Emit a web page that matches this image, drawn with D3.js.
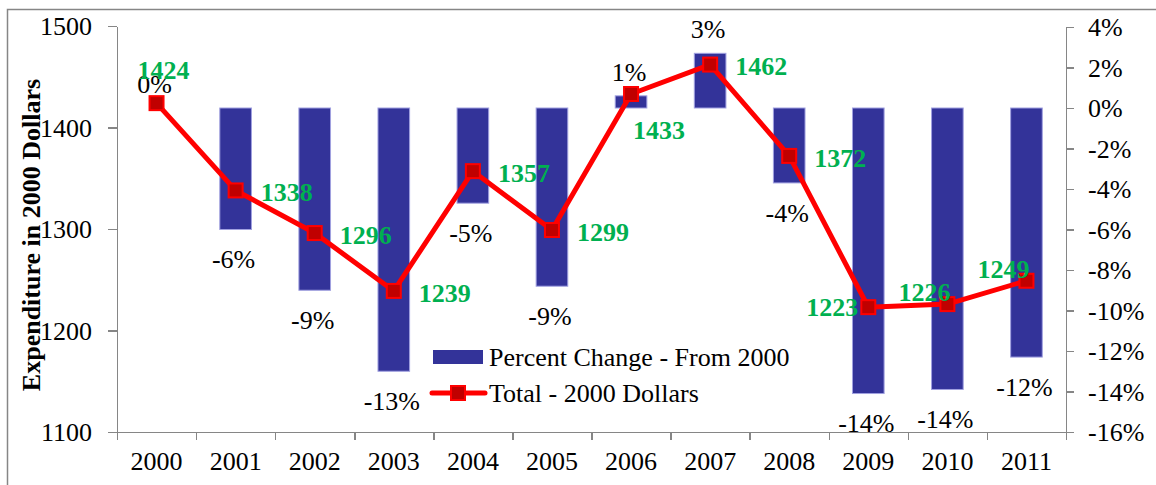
<!DOCTYPE html>
<head>
<meta charset="utf-8">
<title>Expenditure in 2000 Dollars</title>
<script src="https://d3js.org/d3.v7.min.js"></script>
<style>
    body { margin: 0; background: #fff; }
    .axis path, .axis line { stroke: #868686; stroke-width: 1.5; shape-rendering: crispEdges; }
    .axis text { fill: #000; }
    .bar { fill: #333399; stroke: #a0a0e0; stroke-width: 1; }
    .line { fill: none; stroke: #ff0000; stroke-width: 5; stroke-linejoin: round; }
    .dot { fill: #c00000; stroke: #ff0000; stroke-width: 2; }
    .pct { fill: #000; text-anchor: middle; }
    .val { font-weight: bold; fill: #00b050; text-anchor: middle; }
</style>
</head>
<body>
<div id="container"></div>
<script>
// ---- data ----
var years = ["2000","2001","2002","2003","2004","2005","2006","2007","2008","2009","2010","2011"];
var totals = [1424, 1338, 1296, 1239, 1357, 1299, 1433, 1462, 1372, 1223, 1226, 1249];
var pctChange = [0, -6.0, -9.0, -13.0, -4.7, -8.8, 0.6, 2.7, -3.7, -14.1, -13.9, -12.3];
var pctLabels = ["0%","-6%","-9%","-13%","-5%","-9%","1%","3%","-4%","-14%","-14%","-12%"];
var leftTicks = [1100, 1200, 1300, 1400, 1500];
var rightTicks = [-16, -14, -12, -10, -8, -6, -4, -2, 0, 2, 4];

// where the green value labels sit relative to the marker
var valPlace = ["above","right","right","right","right","right","below","right","right","left","upleft","upleft"];
var placeOffset = {
    above:  [7, -33],
    right:  [51, 2],
    below:  [28, 36],
    left:   [-36, 0],
    upleft: [-23, -12]
};

var FONT = "'Liberation Serif', Tinos, 'Times New Roman', Times, serif";
var W = 1156, H = 485;
var plot = {left: 117, right: 1066, top: 27, bottom: 432};

var svg = d3.select("#container").append("svg")
    .attr("width", W)
    .attr("height", H);

// outer frame
svg.append("rect")
    .attr("x", 7.5).attr("y", 9.5)
    .attr("width", W).attr("height", H)
    .attr("fill", "none")
    .attr("stroke", "#868686")
    .attr("stroke-width", 1.5);

// ---- scales ----
var x = d3.scaleBand()
    .domain(years)
    .range([plot.left, plot.right])
    .paddingInner(0.6)
    .paddingOuter(0.3);

var xEdge = d3.scaleLinear().domain([0, years.length]).range([plot.left, plot.right]);

var yLeft = d3.scaleLinear().domain([1100, 1500]).range([plot.bottom, plot.top - 1]);
var yRight = d3.scaleLinear().domain([-16, 4]).range([plot.bottom, plot.top]);

function cx(d, i) { return x(years[i]) + x.bandwidth() / 2; }

// ---- bars ----
svg.selectAll(".bar")
    .data(pctChange)
  .enter().append("rect")
    .attr("class", "bar")
    .attr("x", function(d, i) { return x(years[i]); })
    .attr("width", x.bandwidth())
    .attr("y", function(d) { return yRight(Math.max(0, d)); })
    .attr("height", function(d) { return Math.abs(yRight(d) - yRight(0)); });

// ---- axes ----
svg.append("g")
    .attr("class", "axis")
    .attr("transform", "translate(" + plot.left + ",0)")
    .call(d3.axisLeft(yLeft).tickValues(leftTicks).tickSize(9).tickSizeOuter(0).tickPadding(16)
        .tickFormat(d3.format("d")))
    .selectAll("text").attr("dy", "0.34em");

svg.append("g")
    .attr("class", "axis")
    .attr("transform", "translate(" + plot.right + ",0)")
    .call(d3.axisRight(yRight).tickValues(rightTicks).tickSize(8).tickSizeOuter(0).tickPadding(14)
        .tickFormat(function(d) { return d + "%"; }))
    .selectAll("text").attr("dy", "0.34em");

// x axis: tick lines at band edges, labels at band centres
svg.append("g")
    .attr("class", "axis")
    .attr("transform", "translate(0," + plot.bottom + ")")
    .call(d3.axisBottom(xEdge).tickValues(d3.range(years.length + 1)).tickSize(8).tickSizeOuter(0).tickFormat(""));

svg.append("g")
    .attr("class", "axis")
    .attr("transform", "translate(0," + plot.bottom + ")")
    .call(d3.axisBottom(x).tickSize(0).tickPadding(20))
    .call(function(g) { g.select(".domain").remove(); });

// ---- line ----
var valueline = d3.line()
    .x(function(d, i) { return cx(d, i); })
    .y(function(d) { return yLeft(d); });

svg.append("path")
    .datum(totals)
    .attr("class", "line")
    .attr("d", valueline);

svg.selectAll(".dot")
    .data(totals)
  .enter().append("rect")
    .attr("class", "dot")
    .attr("x", function(d, i) { return cx(d, i) - 7; })
    .attr("y", function(d) { return yLeft(d) - 7; })
    .attr("width", 14)
    .attr("height", 14);

// ---- percent labels ----
svg.selectAll(".pct")
    .data(pctChange)
  .enter().append("text")
    .attr("class", "pct")
    .attr("x", function(d, i) { return cx(d, i) - 2; })
    .attr("y", function(d) { return d < 0 ? yRight(d) + 30 : yRight(d) - 24; })
    .attr("dy", "0.34em")
    .text(function(d, i) { return pctLabels[i]; });

// ---- value labels ----
svg.selectAll(".val")
    .data(totals)
  .enter().append("text")
    .attr("class", "val")
    .attr("x", function(d, i) { return cx(d, i) + placeOffset[valPlace[i]][0]; })
    .attr("y", function(d, i) { return yLeft(d) + placeOffset[valPlace[i]][1]; })
    .attr("dy", "0.34em")
    .text(function(d) { return d; });

// ---- y title ----
svg.append("text")
    .attr("transform", "translate(31,235) rotate(-90)")
    .attr("dy", "0.34em")
    .style("text-anchor", "middle")
    .style("font-weight", "bold")
    .text("Expenditure in 2000 Dollars");

// ---- legend ----
var lg = svg.append("g").attr("transform", "translate(433,357)");
lg.append("rect").attr("x", 0).attr("y", -7).attr("width", 50).attr("height", 14).attr("fill", "#333399");
lg.append("text").attr("x", 56).attr("y", 0).attr("dy", "0.34em").text("Percent Change - From 2000");
lg.append("line").attr("x1", -1).attr("x2", 52).attr("y1", 36).attr("y2", 36)
    .attr("stroke", "#ff0000").attr("stroke-width", 5).attr("stroke-linecap", "round");
lg.append("rect").attr("class", "dot").attr("x", 18).attr("y", 29).attr("width", 14).attr("height", 14);
lg.append("text").attr("x", 56).attr("y", 36).attr("dy", "0.34em").text("Total - 2000 Dollars");

// one serif face everywhere, set inline so the axis defaults cannot win
svg.selectAll("text")
    .style("font-family", FONT)
    .style("font-size", "26px");
</script>
</body>
